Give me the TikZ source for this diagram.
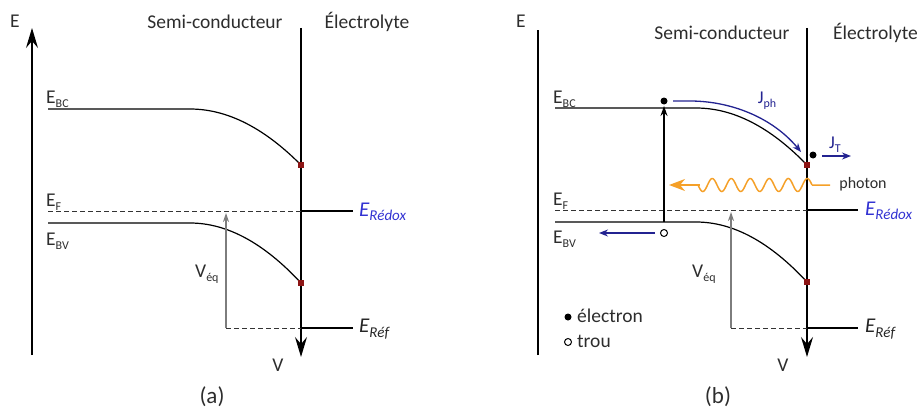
\documentclass[tikz,border=0pt]{standalone}
\usepackage{fontspec}
\setmainfont{Carlito}
\usetikzlibrary{arrows.meta}
\definecolor{txt}{RGB}{45,45,45}
\definecolor{redox}{RGB}{50,50,210}
\definecolor{navy}{RGB}{35,35,145}
\definecolor{sqred}{RGB}{140,20,20}
\definecolor{orng}{RGB}{245,160,40}
\definecolor{vgray}{RGB}{125,125,125}
\newcommand{\lsub}[1]{\raisebox{-0.45ex}{\fontsize{12}{12}\selectfont #1}}
\newcommand{\rsub}[1]{\raisebox{-0.45ex}{\fontsize{15}{15}\selectfont #1}}
\newcommand{\jsub}[1]{\raisebox{-0.45ex}{\fontsize{12}{12}\selectfont #1}}
\begin{document}
\begin{tikzpicture}[x=1pt,y=-1pt,
  lbl/.style={font=\fontsize{19.5}{22}\selectfont, text=txt, inner sep=0pt},
  band/.style={line width=1.2pt},
  fermi/.style={dash pattern=on 5pt off 3pt, line width=0.9pt, draw=black!80},
  axisarrow/.style={-{Stealth[length=20pt,width=12pt,inset=7pt]}, line width=1.3pt},
  level/.style={line width=2.5pt},
  thinlevel/.style={line width=1.5pt},
  veq/.style={vgray, line width=1.2pt, -{Stealth[length=9pt,width=6pt]}},
  redsq/.style={fill=sqred, minimum size=6pt, inner sep=0pt, draw=none, rectangle},
  elec/.style={circle, fill=black, minimum size=7pt, inner sep=0pt},
  hole/.style={circle, draw=black, line width=1pt, minimum size=7pt, inner sep=0pt, fill=white},
  flow/.style={navy, line width=1.3pt, -{Stealth[length=9pt,width=7pt]}},
  redoxlbl/.style={font=\fontsize{21}{24}\selectfont\itshape, inner sep=0pt, anchor=west},
  jlbl/.style={font=\fontsize{18}{20}\selectfont, text=navy, inner sep=0pt}
]
\useasboundingbox (0,0) rectangle (920,412);

% ================= Panel (a) =================
\node[lbl] (Ea) at (15,21) {E};
\coordinate (axa0) at (32,355);
\coordinate (axa1) at (32,28);
\draw[axisarrow] (axa0) -- (axa1);
\node[lbl] (sca) at (215,22) {Semi-conducteur};
\node[lbl] (ela) at (367,22) {Électrolyte};
\coordinate (ia0) at (301,28);
\coordinate (ia1) at (301,357);
\draw[axisarrow] (ia0) -- (ia1);

% bands
\coordinate (bca0) at (48,109);
\coordinate (bca1) at (190,109);
\node[redsq] (sqa1) at (301,165) {};
\draw[band] (bca0) -- (bca1) .. controls (227,109) and (264,127.7) .. (sqa1.center);
\coordinate (bva0) at (48,223);
\coordinate (bva1) at (190,223);
\node[redsq] (sqa2) at (301,283) {};
\draw[band] (bva0) -- (bva1) .. controls (227,223) and (264,243) .. (sqa2.center);
\node[redsq] at (sqa1) {};
\node[redsq] at (sqa2) {};

% Fermi / redox
\coordinate (efa0) at (48,211);
\coordinate (efa1) at (301,211);
\coordinate (efa2) at (353,211);
\draw[fermi] (efa0) -- (efa1);
\draw[level] (efa1) -- (efa2);
\node[redoxlbl, text=redox] (reda) at (359,212) {E\rsub{Rédox}};

% reference
\coordinate (rfa0) at (226,328);
\coordinate (rfa1) at (301,328);
\coordinate (rfa2) at (353,328);
\draw[fermi] (rfa0) -- (rfa1);
\draw[thinlevel] (rfa1) -- (rfa2);
\node[redoxlbl, text=black!85] (refa) at (359,329) {E\rsub{Réf}};

% V_eq
\coordinate (vqa1) at (226,213);
\draw[veq] (rfa0) -- (vqa1);
\node[lbl, anchor=base west] (vqla) at (195,277) {V\lsub{éq}};

% band labels
\node[lbl, anchor=base west] (lbca) at (46,103) {E\lsub{BC}};
\node[lbl, anchor=base west] (lefa) at (46,206) {E\lsub{F}};
\node[lbl, anchor=base west] (lbva) at (46,245) {E\lsub{BV}};

\node[lbl] (Va) at (278,365) {V};
\node[lbl, font=\fontsize{23}{26}\selectfont] (capa) at (212,397) {(a)};

% ================= Panel (b) =================
\node[lbl] (Eb) at (521,21) {E};
\coordinate (axb0) at (538,355);
\coordinate (axb1) at (538,30);
\draw[line width=1.3pt] (axb0) -- (axb1);
\node[lbl] (scb) at (722,33) {Semi-conducteur};
\node[lbl, anchor=west] (elb) at (833,33) {Électrolyte};
\coordinate (ib0) at (807,28);
\coordinate (ib1) at (807,357);
\draw[axisarrow] (ib0) -- (ib1);

% bands
\coordinate (bcb0) at (555,108);
\coordinate (bcb1) at (696,108);
\node[redsq] (sqb1) at (807,165) {};
\draw[band] (bcb0) -- (bcb1) .. controls (733,108) and (770,126.7) .. (sqb1.center);
\coordinate (bvb0) at (555,222);
\coordinate (bvb1) at (696,222);
\node[redsq] (sqb2) at (807,282) {};
\draw[band] (bvb0) -- (bvb1) .. controls (733,222) and (770,242) .. (sqb2.center);
\node[redsq] at (sqb1) {};
\node[redsq] at (sqb2) {};

% Fermi / redox
\coordinate (efb0) at (555,210);
\coordinate (efb1) at (807,210);
\coordinate (efb2) at (858,210);
\draw[fermi] (efb0) -- (efb1);
\draw[level] (efb1) -- (efb2);
\node[redoxlbl, text=redox] (redb) at (865,211) {E\rsub{Rédox}};

% reference
\coordinate (rfb0) at (731,328);
\coordinate (rfb1) at (807,328);
\coordinate (rfb2) at (858,328);
\draw[fermi] (rfb0) -- (rfb1);
\draw[level] (rfb1) -- (rfb2);
\node[redoxlbl, text=black!85] (refb) at (865,329) {E\rsub{Réf}};

% V_eq
\coordinate (vqb1) at (731,212);
\draw[veq] (rfb0) -- (vqb1);
\node[lbl, anchor=base west] (vqlb) at (692,277) {V\lsub{éq}};

% band labels
\node[lbl, anchor=base west] (lbcb) at (553,103) {E\lsub{BC}};
\node[lbl, anchor=base west] (lefb) at (553,205) {E\lsub{F}};
\node[lbl, anchor=base west] (lbvb) at (553,243) {E\lsub{BV}};

% excitation
\node[elec] (e1) at (664,101) {};
\node[hole] (h1) at (664,233) {};
\coordinate (exc0) at (664,222);
\coordinate (exc1) at (664,106);
\draw[line width=1.2pt, -{Stealth[length=10pt,width=7pt]}] (exc0) -- (exc1);

% J_ph
\coordinate (jph0) at (673,101);
\coordinate (jph1) at (690,101);
\coordinate (jph2) at (801,152);
\draw[flow] (jph0) -- (jph1) .. controls (730,101) and (772,117) .. (jph2);
\node[jlbl] (jphl) at (767,101) {J\jsub{ph}};

% J_T
\node[elec] (e2) at (813,155) {};
\coordinate (jt0) at (822,156);
\coordinate (jt1) at (851,156);
\draw[flow] (jt0) -- (jt1);
\node[jlbl] (jtl) at (835,145) {J\jsub{T}};

% hole flow
\coordinate (hf0) at (655,233);
\coordinate (hf1) at (599,233);
\draw[flow] (hf0) -- (hf1);

% photon
\coordinate (ph0) at (830,185);
\coordinate (ph1) at (812,185);
\coordinate (ph2) at (700,185);
\coordinate (ph3) at (669,185);
\draw[orng, line width=1.5pt] (ph0) -- (ph1)
  plot[domain=0:114, samples=150, smooth] ({812-\x},{185-6.5*sin(\x/19*360)});
\draw[orng, line width=1.5pt, -{Stealth[length=16pt,width=12pt,inset=5pt]}] (ph2) -- (ph3);
\node[lbl, font=\fontsize{16}{18}\selectfont] (phl) at (863,184) {photon};

% legend
\node[elec] (le) at (568,317) {};
\node[lbl, anchor=west] (let) at (577,316) {électron};
\node[hole] (lh) at (568,342) {};
\node[lbl, anchor=west] (lht) at (577,341) {trou};

\node[lbl] (Vb) at (783,365) {V};
\node[lbl, font=\fontsize{23}{26}\selectfont] (capb) at (718,397) {(b)};
\end{tikzpicture}
\end{document}
